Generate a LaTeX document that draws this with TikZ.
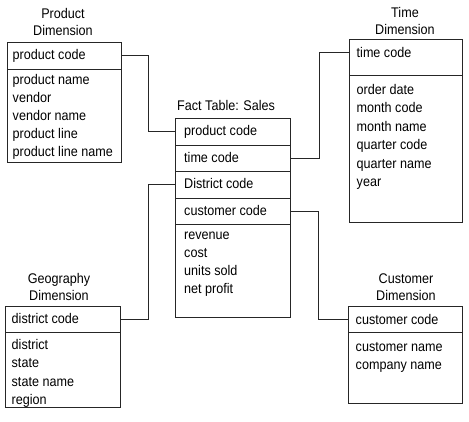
\documentclass[tikz,border=0pt]{standalone}
\usepackage{fontspec}
\setmainfont{Liberation Sans}[FakeStretch=0.9]
\usetikzlibrary{fit}
\begin{document}
\begin{tikzpicture}[x=1pt,y=-1pt,
  box/.style={draw=black!85,line width=0.8pt,inner sep=0pt},
  item/.style={anchor=base west,inner sep=0pt,font=\fontsize{14}{15}\selectfont},
  title/.style={inner sep=0pt,align=center,font=\fontsize{14}{17.5}\selectfont},
  link/.style={draw=black!85,line width=0.8pt}]
\useasboundingbox (0,0) rectangle (469,422);
% ---------- Product Dimension
\node[title] (pt) at (63,22) {Product\\Dimension};
\node[box,fit={(7,42)(121,69)}] (ph) {};
\node[box,fit={(7,69)(121,162)}] (pb) {};
\node[item] (pc) at (12.5,59.5) {product code};
\foreach \t [count=\i] in {product name,vendor,vendor name,product line,product line name}
  \node[item] (pi\i) at (12.5,{84.5+18*(\i-1)}) {\t};
% ---------- Time Dimension
\node[title] (tt) at (405,21) {Time\\Dimension};
\node[box,fit={(349,39)(462,75)}] (th) {};
\node[box,fit={(349,75)(462,222)}] (tb) {};
\node[item] (tc) at (356.5,57.5) {time code};
\foreach \t [count=\i] in {order date,month code,month name,quarter code,quarter name,year}
  \node[item] (ti\i) at (356.5,{94.5+18.4*(\i-1)}) {\t};
% ---------- Fact Table
\node[inner sep=0pt,anchor=base west,font=\fontsize{14}{15}\selectfont] (ft) at (177,111) {Fact Table: Sales};
\node[box,fit={(175,118)(290,145)}] (f1) {};
\node[box,fit={(175,145)(290,171)}] (f2) {};
\node[box,fit={(175,171)(290,198)}] (f3) {};
\node[box,fit={(175,198)(290,224)}] (f4) {};
\node[box,fit={(175,224)(290,317)}] (f5) {};
\node[item] (fc1) at (184,135.5) {product code};
\node[item] (fc2) at (184,162.5) {time code};
\node[item] (fc3) at (184,188.5) {District code};
\node[item] (fc4) at (184,215.5) {customer code};
\foreach \t [count=\i] in {revenue,cost,units sold,net profit}
  \node[item] (fi\i) at (184,{239.5+18*(\i-1)}) {\t};
% ---------- Geography Dimension
\node[title] (gt) at (59,287) {Geography\\Dimension};
\node[box,fit={(5,306)(120,332)}] (gh) {};
\node[box,fit={(5,332)(120,407)}] (gb) {};
\node[item] (gc) at (11.5,323.5) {district code};
\foreach \t [count=\i] in {district,state,state name,region}
  \node[item] (gi\i) at (11.5,{349.5+18.3*(\i-1)}) {\t};
% ---------- Customer Dimension
\node[title] (ct) at (406,287) {Customer\\Dimension};
\node[box,fit={(348,306)(462,332)}] (ch) {};
\node[box,fit={(348,332)(462,403)}] (cb) {};
\node[item] (cc) at (355.5,324.5) {customer code};
\node[item] (ci1) at (355.5,351.5) {customer name};
\node[item] (ci2) at (355.5,369.5) {company name};
% ---------- connectors
\draw[link] (ph.east) -- (148,0 |- ph.east) |- (f1.west);
\draw[link] (f2.east) -- (319,0 |- f2.east) |- (th.west |- tc.center);
\draw[link] (f3.west) -- (148,0 |- f3.west) |- (gh.east);
\draw[link] (f4.east) -- (318,0 |- f4.east) |- (ch.west);
\end{tikzpicture}
\end{document}
